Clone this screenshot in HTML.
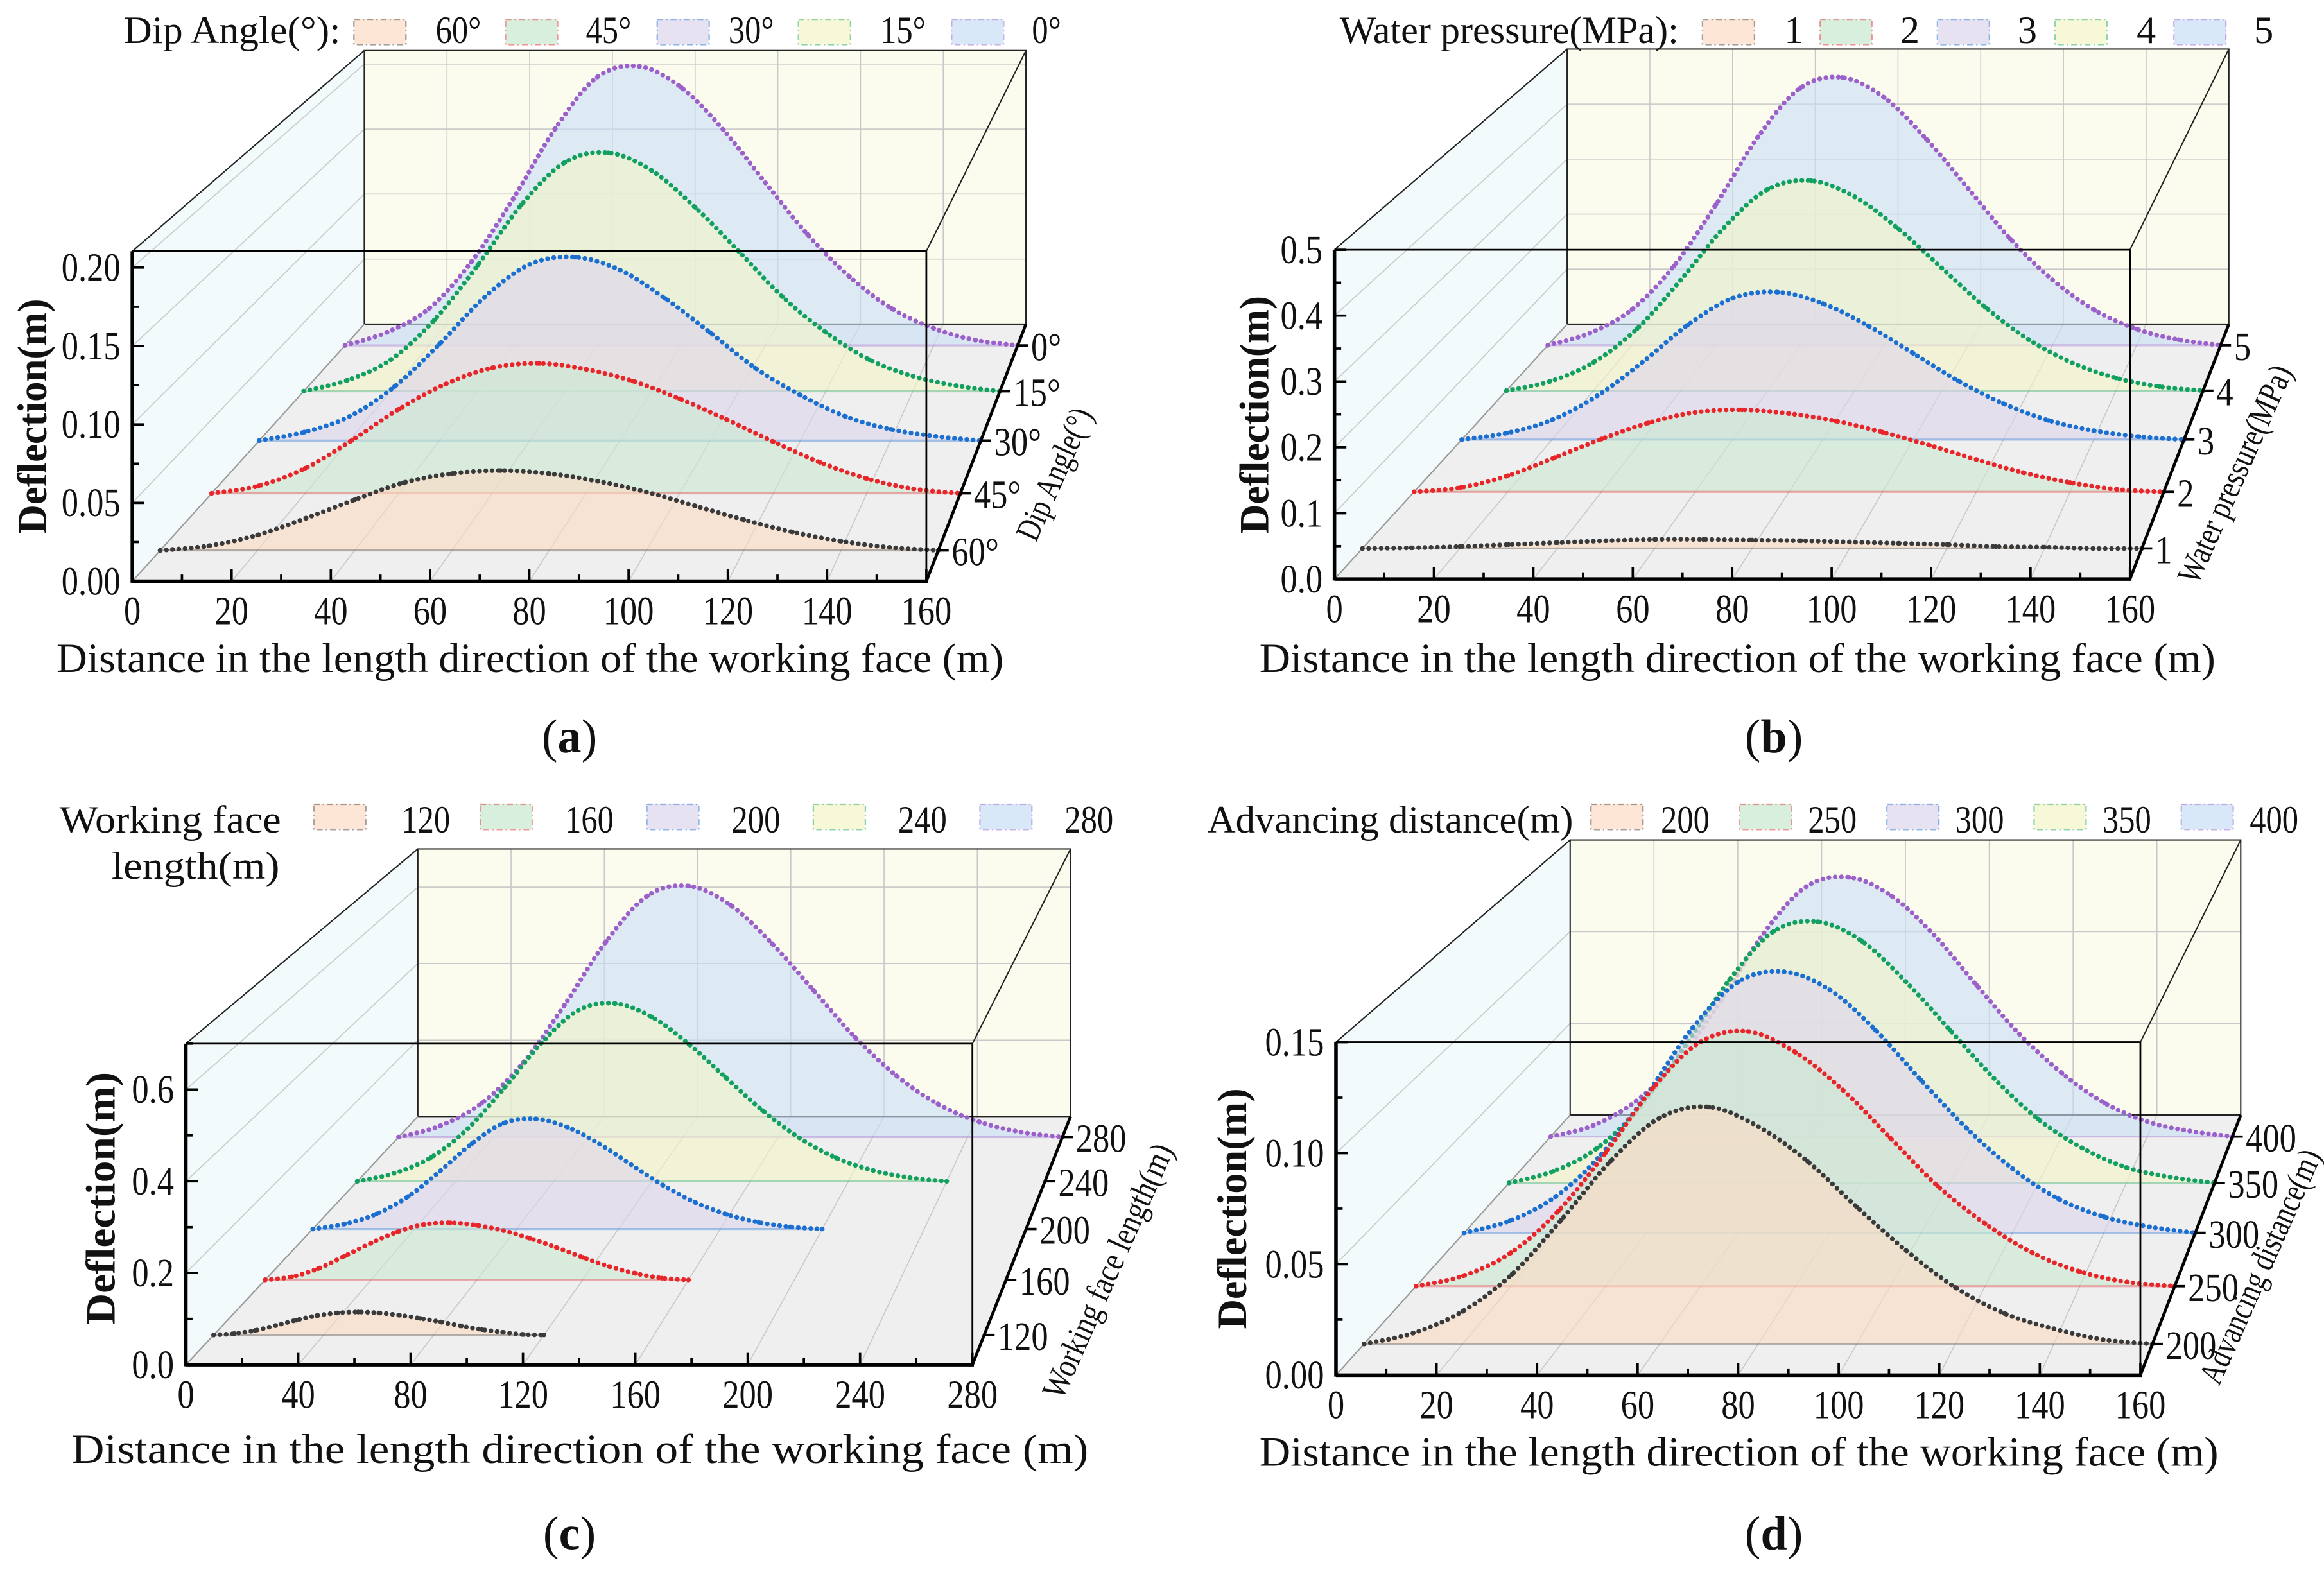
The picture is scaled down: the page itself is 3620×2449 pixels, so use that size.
<!DOCTYPE html>
<html><head><meta charset="utf-8"><style>
html,body{margin:0;padding:0;background:#fff}
svg{display:block;font-family:"Liberation Serif",serif}
</style></head><body>
<svg id="fig" xmlns="http://www.w3.org/2000/svg" width="3620" height="2449" viewBox="0 0 1563 1057.4">
<rect x="0" y="0" width="1563" height="1057.4" fill="#fff"/>
<g id="layer"></g>
<g id="texts" font-size="26" fill="#111">
 <g>
  <text x="83" y="29" textLength="146" lengthAdjust="spacingAndGlyphs">Dip Angle(°):</text>
  <text class="cz" x="293" y="29">60°</text><text class="cz" x="394" y="29">45°</text><text class="cz" x="490" y="29">30°</text><text class="cz" x="592" y="29">15°</text><text class="cz" x="694" y="29">0°</text>
 </g>
 <g>
  <text x="901" y="29" textLength="228" lengthAdjust="spacingAndGlyphs">Water pressure(MPa):</text>
  <text x="1200" y="29">1</text><text x="1278" y="29">2</text><text x="1357" y="29">3</text><text x="1437" y="29">4</text><text x="1516" y="29">5</text>
 </g>
 <g>
  <text x="40" y="560" textLength="149" lengthAdjust="spacingAndGlyphs">Working face</text>
  <text x="75" y="591" textLength="113" lengthAdjust="spacingAndGlyphs">length(m)</text>
  <text class="cz" x="270" y="560">120</text><text class="cz" x="380" y="560">160</text><text class="cz" x="492" y="560">200</text><text class="cz" x="604" y="560">240</text><text class="cz" x="716" y="560">280</text>
 </g>
 <g>
  <text x="812" y="560" textLength="246" lengthAdjust="spacingAndGlyphs">Advancing distance(m)</text>
  <text class="cz" x="1117" y="560">200</text><text class="cz" x="1216" y="560">250</text><text class="cz" x="1315" y="560">300</text><text class="cz" x="1414" y="560">350</text><text class="cz" x="1513" y="560">400</text>
 </g>
 <text x="38" y="452" font-size="28" textLength="637" lengthAdjust="spacingAndGlyphs">Distance in the length direction of the working face (m)</text>
 <text x="847" y="452" font-size="28" textLength="643" lengthAdjust="spacingAndGlyphs">Distance in the length direction of the working face (m)</text>
 <text x="48" y="984" font-size="28" textLength="684" lengthAdjust="spacingAndGlyphs">Distance in the length direction of the working face (m)</text>
 <text x="847" y="986" font-size="28" textLength="645" lengthAdjust="spacingAndGlyphs">Distance in the length direction of the working face (m)</text>
 <text transform="translate(31,280) rotate(-90)" text-anchor="middle" font-size="28" font-weight="bold" textLength="158" lengthAdjust="spacingAndGlyphs">Deflection(m)</text>
 <text transform="translate(853,279) rotate(-90)" text-anchor="middle" font-size="28" font-weight="bold" textLength="160" lengthAdjust="spacingAndGlyphs">Deflection(m)</text>
 <text transform="translate(77,806) rotate(-90)" text-anchor="middle" font-size="28" font-weight="bold" textLength="170" lengthAdjust="spacingAndGlyphs">Deflection(m)</text>
 <text transform="translate(838,813) rotate(-90)" text-anchor="middle" font-size="28" font-weight="bold" textLength="162" lengthAdjust="spacingAndGlyphs">Deflection(m)</text>
 <text transform="translate(716,322) rotate(-66)" text-anchor="middle" font-size="23" textLength="95" lengthAdjust="spacingAndGlyphs">Dip Angle(°)</text>
 <text transform="translate(1510,322) rotate(-66)" text-anchor="middle" font-size="23" textLength="158" lengthAdjust="spacingAndGlyphs">Water pressure(MPa)</text>
 <text transform="translate(752,858) rotate(-66)" text-anchor="middle" font-size="23" textLength="185" lengthAdjust="spacingAndGlyphs">Working face length(m)</text>
 <text transform="translate(1527,855) rotate(-66)" text-anchor="middle" font-size="23" textLength="170" lengthAdjust="spacingAndGlyphs">Advancing distance(m)</text>
 <text x="383" y="506" font-size="32" text-anchor="middle">(<tspan font-weight="bold">a</tspan>)</text>
 <text x="1193" y="506" font-size="32" text-anchor="middle">(<tspan font-weight="bold">b</tspan>)</text>
 <text x="383" y="1042" font-size="32" text-anchor="middle">(<tspan font-weight="bold">c</tspan>)</text>
 <text x="1193" y="1042" font-size="32" text-anchor="middle">(<tspan font-weight="bold">d</tspan>)</text>
</g>
</svg>
<script>
const depthPos=[0.12,0.342,0.547,0.739,0.917];
const a60=[0,.003,.010,.021,.033,.044,.050,.052,.050,.045,.038,.029,.020,.012,.006,.002,0];
const a45=[0,.005,.017,.036,.057,.074,.085,.088,.084,.076,.064,.050,.035,.021,.010,.003,0];
const a30=[0,.006,.017,.038,.068,.101,.124,.129,.120,.100,.076,.051,.032,.017,.008,.003,0];
const a15=[0,.008,.023,.052,.092,.136,.167,.174,.161,.134,.102,.069,.043,.023,.011,.004,0];
const a0=[0,.010,.028,.063,.111,.164,.203,.211,.195,.163,.123,.084,.052,.028,.013,.004,0];
const catsA=['60°','45°','30°','15°','0°'];
const b1=[0,.001,.003,.006,.009,.012,.014,.014,.013,.012,.010,.008,.006,.003,.002,0,0];
const b2=[0,.007,.026,.055,.085,.111,.128,.132,.126,.114,.096,.075,.052,.031,.015,.004,0];
const b3=[0,.011,.033,.073,.129,.191,.236,.246,.227,.190,.144,.098,.060,.032,.015,.005,0];
const b4=[0,.016,.049,.107,.191,.282,.348,.363,.335,.280,.212,.144,.088,.048,.022,.007,0];
const b5=[0,.022,.064,.142,.252,.373,.460,.479,.443,.369,.280,.190,.117,.063,.029,.010,0];
const catsB=['1','2','3','4','5'];
const c120=[0,.003,.010,.021,.033,.043,.049,.051,.049,.044,.037,.029,.020,.012,.006,.001,0];
const c160=[0,.007,.026,.055,.085,.111,.128,.132,.126,.114,.096,.075,.052,.031,.015,.004,0];
const c200=[0,.012,.036,.078,.139,.205,.254,.264,.244,.204,.154,.105,.064,.035,.016,.005,0];
const c240=[0,.020,.059,.131,.233,.344,.425,.442,.408,.341,.258,.176,.108,.058,.027,.009,0];
const c280=[0,.029,.087,.191,.340,.503,.621,.646,.597,.498,.378,.257,.158,.085,.039,.013,0];
const catsC=['120','160','200','240','280'];
const lengthsC=[120,160,200,240,280];
const d200=[0,.005,.015,.032,.057,.084,.104,.109,.100,.084,.063,.043,.026,.014,.007,.002,0];
const d250=[0,.005,.016,.036,.064,.095,.117,.122,.112,.094,.071,.048,.030,.016,.007,.002,0];
const d300=[0,.006,.018,.039,.069,.102,.125,.130,.121,.101,.076,.052,.032,.017,.008,.003,0];
const d350=[0,.006,.018,.040,.071,.105,.130,.135,.125,.104,.079,.054,.033,.018,.008,.003,0];
const d400=[0,.006,.019,.041,.073,.109,.134,.139,.129,.108,.081,.055,.034,.018,.008,.003,0];
const catsD=['200','250','300','350','400'];
const xTicks160=[0,20,40,60,80,100,120,140,160];
const xTicks280=[0,40,80,120,160,200,240,280];
const yTicksA=[0,0.05,0.10,0.15,0.20], yLabA=['0.00','0.05','0.10','0.15','0.20'];
const yTicksB=[0,0.1,0.2,0.3,0.4,0.5], yLabB=['0.0','0.1','0.2','0.3','0.4','0.5'];
const yTicksC=[0,0.2,0.4,0.6], yLabC=['0.0','0.2','0.4','0.6'];
const yTicksD=[0,0.05,0.10,0.15], yLabD=['0.00','0.05','0.10','0.15'];

const lineCols=['#3a3a3a','#e8262a','#1a6fd0','#12a060','#9b60c9'];
const fillCols=['#fcdcc4','#c9e8d0','#ddd5ec','#f3f5c6','#c9def6'];
const swA=[238,340,442,537,640], swB=[1145,1224,1303,1382,1462], swC=[211,323,435,547,659], swD=[1070,1170,1269,1368,1467];

const panels=[
 {id:'a',F:{x0:89,x1:623,yb:391,yt:169},B:{x0:245,x1:690,yb:218,yt:34},ymax:0.2104,xmax:160,
  series:[a60,a45,a30,a15,a0],cats:catsA,xt:xTicks160,yt:yTicksA,yl:yLabA,ymin:0.025,xmin:10,sw:swA,swy:13},
 {id:'b',F:{x0:897.5,x1:1432.5,yb:389.5,yt:168},B:{x0:1054,x1:1499,yb:218,yt:33},ymax:0.5,xmax:160,
  series:[b1,b2,b3,b4,b5],cats:catsB,xt:xTicks160,yt:yTicksB,yl:yLabB,ymin:0.05,xmin:10,sw:swB,swy:13},
 {id:'c',F:{x0:125,x1:654,yb:918,yt:702},B:{x0:281,x1:720,yb:751,yt:571},ymax:0.70,xmax:280,
  series:[c120,c160,c200,c240,c280],cats:catsC,lens:lengthsC,xt:xTicks280,yt:yTicksC,yl:yLabC,ymin:0.1,xmin:20,sw:swC,swy:541},
 {id:'d',F:{x0:898.5,x1:1439.5,yb:925,yt:701},B:{x0:1056,x1:1507,yb:750,yt:565},ymax:0.15,xmax:160,
  series:[d200,d250,d300,d350,d400],cats:catsD,xt:xTicks160,yt:yTicksD,yl:yLabD,ymin:0.025,xmin:10,sw:swD,swy:541}
];

const NS='http://www.w3.org/2000/svg';
const layer=document.getElementById('layer');
function mk(parent,tag,attrs){const e=document.createElementNS(NS,tag);for(const k in attrs)e.setAttribute(k,attrs[k]);parent.appendChild(e);return e;}
function condense(tx){try{const w=tx.getComputedTextLength();tx.setAttribute('textLength',(w*0.84).toFixed(2));tx.setAttribute('lengthAdjust','spacingAndGlyphs');}catch(e){}}
function proj(g,xv,v,t){
 const l=g.F.x0+(g.B.x0-g.F.x0)*t, r=g.F.x1+(g.B.x1-g.F.x1)*t;
 const yb=g.F.yb+(g.B.yb-g.F.yb)*t;
 const h=(g.F.yb-g.F.yt)+((g.B.yb-g.B.yt)-(g.F.yb-g.F.yt))*t;
 return [l+(r-l)*xv/g.xmax, yb-v/g.ymax*h];
}
function smooth(p){
 let d='M'+p[0][0].toFixed(2)+','+p[0][1].toFixed(2);
 for(let i=0;i<p.length-1;i++){
  const p0=p[i-1]||p[i],p1=p[i],p2=p[i+1],p3=p[i+2]||p2;
  const c1=[p1[0]+(p2[0]-p0[0])/6,p1[1]+(p2[1]-p0[1])/6];
  const c2=[p2[0]-(p3[0]-p1[0])/6,p2[1]-(p3[1]-p1[1])/6];
  d+=' C'+c1[0].toFixed(2)+','+c1[1].toFixed(2)+' '+c2[0].toFixed(2)+','+c2[1].toFixed(2)+' '+p2[0].toFixed(2)+','+p2[1].toFixed(2);
 }
 return d;
}
function pts(a){return a.map(p=>p.join(',')).join(' ');}

document.querySelectorAll('text.cz').forEach(condense);

panels.forEach(g=>{
 const G=mk(layer,'g',{});
 
 
 const F=g.F,B=g.B;
 const lw=mk(G,'polygon',{points:pts([[F.x0,F.yb],[F.x0,F.yt],[B.x0,B.yt],[B.x0,B.yb]]),fill:'#f2fafc'});
 
 
 const bw=mk(G,'rect',{x:B.x0,y:B.yt,width:B.x1-B.x0,height:B.yb-B.yt,fill:'#fcfcee'});
 
 
 const fl=mk(G,'polygon',{points:pts([[F.x0,F.yb],[F.x1,F.yb],[B.x1,B.yb],[B.x0,B.yb]]),fill:'#efefef'});
 
 
 const gr=mk(G,'g',{stroke:'#c8c8c8','stroke-width':0.7,fill:'none'});
 
 
 g.xt.forEach(x=>{
  const f=proj(g,x,0,0),b=proj(g,x,0,1),bt=proj(g,x,g.ymax,1);
  mk(gr,'line',{x1:f[0],y1:f[1],x2:b[0],y2:b[1]});
  mk(gr,'line',{x1:b[0],y1:b[1],x2:bt[0],y2:bt[1]});
 });
 g.yt.forEach(v=>{
  const f=proj(g,0,v,0),b=proj(g,0,v,1),br=proj(g,g.xmax,v,1);
  mk(gr,'line',{x1:f[0],y1:f[1],x2:b[0],y2:b[1]});
  mk(gr,'line',{x1:b[0],y1:b[1],x2:br[0],y2:br[1]});
 });
 const bf=mk(G,'g',{stroke:'#222','stroke-width':0.9,fill:'none'});
 
 
 mk(bf,'rect',{x:B.x0,y:B.yt,width:B.x1-B.x0,height:B.yb-B.yt});
 mk(bf,'line',{x1:F.x0,y1:F.yt,x2:B.x0,y2:B.yt});
 mk(bf,'line',{x1:F.x1,y1:F.yt,x2:B.x1,y2:B.yt});
 mk(bf,'line',{x1:F.x0,y1:F.yb,x2:B.x0,y2:B.yb,stroke:'#999'});
 for(let i=g.series.length-1;i>=0;i--){
  const vals=g.series[i], t=depthPos[i];
  const L=g.lens?g.lens[i]:g.xmax, n=vals.length-1;
  const P=vals.map((v,k)=>proj(g,k*L/n,v,t));
  const b0=proj(g,0,0,t), b1=proj(g,L,0,t);
  const sg=mk(G,'g',{});
  
  
  const area=mk(sg,'path',{d:smooth(P)+' L'+b1[0]+','+b1[1]+' L'+b0[0]+','+b0[1]+' Z',fill:fillCols[i],'fill-opacity':0.62});
  
  
  const base=mk(sg,'line',{x1:b0[0],y1:b0[1],x2:b1[0],y2:b1[1],stroke:lineCols[i],'stroke-opacity':0.35,'stroke-width':1.4});
  
  
  const ln=mk(sg,'path',{d:smooth(P),fill:'none',stroke:lineCols[i],'stroke-width':3.2,'stroke-linecap':'round','stroke-dasharray':'0 4.2'});
  
  
  P.forEach(p=>{
   const c=mk(sg,'circle',{cx:p[0],cy:p[1],r:1.6,fill:lineCols[i]});
   
   
  });
 }
 const ff=mk(G,'g',{stroke:'#000',fill:'none'});
 
 
 mk(ff,'line',{x1:F.x0,y1:F.yt,x2:F.x1,y2:F.yt,'stroke-width':1.2});
 mk(ff,'line',{x1:F.x1,y1:F.yt,x2:F.x1,y2:F.yb,'stroke-width':1.2});
 const xa=mk(G,'g',{stroke:'#000','stroke-width':2});
 
 
 mk(xa,'line',{x1:F.x0,y1:F.yb,x2:F.x1+1,y2:F.yb,'stroke-width':2.4});
 for(let x=0;x<=g.xmax+0.01;x+=g.xmin){
  const p=proj(g,x,0,0), major=g.xt.includes(Math.round(x));
  mk(xa,'line',{x1:p[0],y1:p[1],x2:p[0],y2:p[1]-(major?8:4.5),'stroke-width':1.6});
 }
 g.xt.forEach(x=>{
  const p=proj(g,x,0,0);
  const tx=mk(G,'text',{x:p[0],y:F.yb+29,'text-anchor':'middle','font-size':27,fill:'#111'});
  tx.textContent=String(x);
  
  
  condense(tx);
 });
 const ya=mk(G,'g',{stroke:'#000'});
 
 
 mk(ya,'line',{x1:F.x0,y1:F.yb+1,x2:F.x0,y2:F.yt,'stroke-width':2.4});
 for(let v=0;v<=g.ymax+1e-9;v+=g.ymin){
  const p=proj(g,0,v,0), major=g.yt.some(q=>Math.abs(q-v)<1e-6);
  mk(ya,'line',{x1:p[0],y1:p[1],x2:p[0]+(major?8:4.5),y2:p[1],'stroke-width':1.6});
 }
 g.yt.forEach((v,k)=>{
  const p=proj(g,0,v,0);
  const tx=mk(G,'text',{x:F.x0-8,y:p[1]+9,'text-anchor':'end','font-size':27,fill:'#111'});
  tx.textContent=g.yl[k];
  
  
  condense(tx);
 });
 const za=mk(G,'g',{stroke:'#000'});
 
 
 mk(za,'line',{x1:F.x1,y1:F.yb,x2:B.x1,y2:B.yb,'stroke-width':2});
 depthPos.forEach((t,k)=>{
  const p=proj(g,g.xmax,0,t);
  mk(za,'line',{x1:p[0],y1:p[1],x2:p[0]+7,y2:p[1],'stroke-width':1.6});
  const tx=mk(G,'text',{x:p[0]+9,y:p[1]+10,'font-size':27,fill:'#111'});
  tx.textContent=g.cats[k];
  
  
  condense(tx);
 });
 g.sw.forEach((x,k)=>{
  const r=mk(layer,'rect',{x:x,y:g.swy,width:35,height:17,fill:fillCols[k],'fill-opacity':0.7,stroke:lineCols[k],'stroke-opacity':0.45,'stroke-width':1,'stroke-dasharray':'4 2 1 2'});
  
  
 });
});
</script>
</body></html>
